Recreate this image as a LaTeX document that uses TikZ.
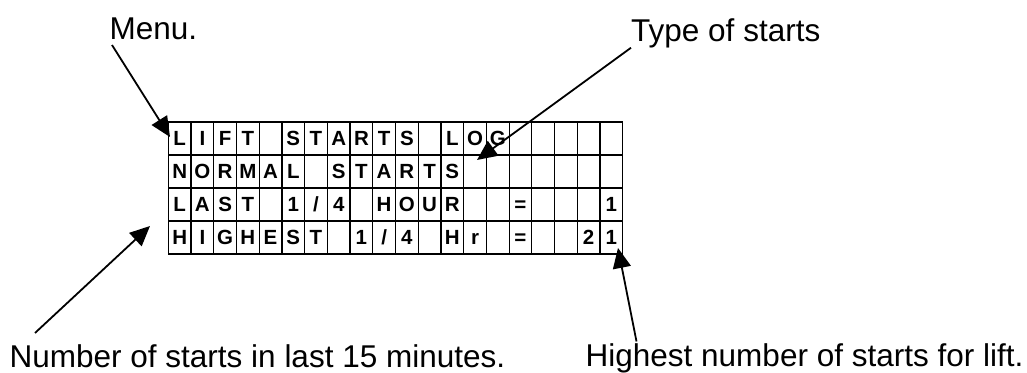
\documentclass[tikz,border=0pt]{standalone}
\usepackage{fontspec}
\setmainfont{Liberation Sans}
\usetikzlibrary{arrows.meta}
\begin{document}
\begin{tikzpicture}[x=1pt,y=-1pt,
  lbl/.style={font=\fontsize{31.5}{36}\selectfont, inner sep=0pt, anchor=base west},
  ch/.style={font=\fontsize{20.5}{23}\selectfont\bfseries, inner sep=0pt, anchor=base},
  arr/.style={line width=1.8pt, -{Triangle[length=20pt,width=18pt]}},
  gridline/.style={line width=1.2pt, line cap=rect}]
\useasboundingbox (0,0) rectangle (1027,372);
\def\sl{/}
% LCD grid: 20 columns x 4 rows
\foreach \i in {0,...,20}
  \draw[gridline] (168.3+\i*22.72,122) -- (168.3+\i*22.72,254);
\foreach \j in {0,...,4}
  \draw[gridline] (168.3,122+\j*33) -- (622.7,122+\j*33);
% row 1: LIFT STARTS LOG
\foreach \c/\t in {0/L,1/I,2/F,3/T,5/S,6/T,7/A,8/R,9/T,10/S,12/L,13/O,14/G}
  \node[ch] (ra\c) at (179.66+\c*22.72,145.8) {\t};
% row 2: NORMAL STARTS
\foreach \c/\t in {0/N,1/O,2/R,3/M,4/A,5/L,7/S,8/T,9/A,10/R,11/T,12/S}
  \node[ch] (rb\c) at (179.66+\c*22.72,178.8) {\t};
% row 3: LAST 1/4 HOUR = 1
\foreach \c/\t in {0/L,1/A,2/S,3/T,5/1,6/\sl,7/4,9/H,10/O,11/U,12/R,15/=,19/1}
  \node[ch] (rc\c) at (179.66+\c*22.72,211.8) {\t};
% row 4: HIGHEST 1/4 Hr = 21
\foreach \c/\t in {0/H,1/I,2/G,3/H,4/E,5/S,6/T,8/1,9/\sl,10/4,12/H,13/r,15/=,18/2,19/1}
  \node[ch] (rd\c) at (179.66+\c*22.72,244.8) {\t};
% labels
\node[lbl] (menu) at (109.5,39.5) {Menu.};
\node[lbl] (type) at (631,41) {Type of starts};
\node[lbl] (num) at (9.5,367) {Number of starts in last 15 minutes.};
\node[lbl] (high) at (585.5,366) {Highest number of starts for lift.};
% arrow tips
\coordinate (tmenu) at (170,137);
\coordinate (ttype) at (477,160);
\coordinate (tnum) at (150,226);
\coordinate (thigh) at (618,248);
\draw[arr] ([xshift=2.5pt,yshift=-5pt]menu.south west) -- (tmenu);
\draw[arr] (type.south west) -- (ttype);
\draw[arr] ([xshift=25.5pt,yshift=11pt]num.north west) -- (tnum);
\draw[arr] ([xshift=51pt,yshift=1.5pt]high.north west) -- (thigh);
\end{tikzpicture}
\end{document}
